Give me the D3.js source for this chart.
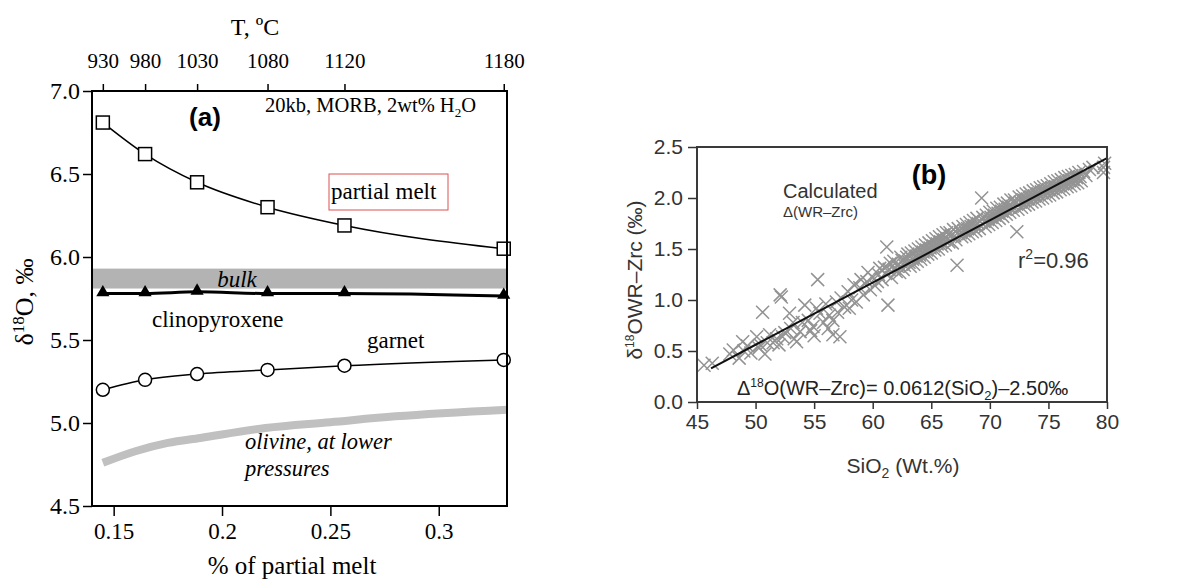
<!DOCTYPE html>
<html>
<head>
<meta charset="utf-8">
<script src="https://cdn.jsdelivr.net/npm/d3@7"></script>
<style>
  body { margin: 0; background: #fff; }
  svg { display: block; }
</style>
</head>
<body>
<svg id="chart"></svg>
<script>
// ---- data, panel (a) ----
const meltFrac = [0.145, 0.1645, 0.1885, 0.221, 0.2565, 0.33];
const tempC = [930, 980, 1030, 1080, 1120, 1180];
const partialMelt = [6.81, 6.62, 6.45, 6.30, 6.19, 6.05];
const clinopyroxene = [5.78, 5.78, 5.79, 5.78, 5.78, 5.765];
const garnet = [5.20, 5.26, 5.295, 5.32, 5.345, 5.38];
const bulkBand = [5.81, 5.93];
const olivine = [[0.145, 4.76], [0.16, 4.83], [0.175, 4.88], [0.19, 4.91], [0.22, 4.97],
                 [0.25, 5.005], [0.28, 5.04], [0.3315, 5.08]];
const meltTicks = [0.15, 0.2, 0.25, 0.3];
const d18OTicks = [4.5, 5.0, 5.5, 6.0, 6.5, 7.0];

// ---- data, panel (b) ----
const sio2Ticks = [45, 50, 55, 60, 65, 70, 75, 80];
const deltaTicks = [0, 0.5, 1.0, 1.5, 2.0, 2.5];
const fitLine = [[46.2, 0.33], [80, 2.39]];
const samples = [
  [45.6, 0.36], [46.3, 0.38], [47.8, 0.47], [48.1, 0.51], [48.6, 0.43], [48.9, 0.59],
  [49.0, 0.50], [49.3, 0.55], [49.6, 0.48], [50.1, 0.64], [50.3, 0.53], [50.4, 0.56],
  [50.6, 0.88], [50.8, 0.47], [51.0, 0.58], [51.2, 0.66], [51.5, 0.58], [51.8, 0.62],
  [52.0, 0.56], [52.1, 1.05], [52.2, 1.03], [52.3, 0.64], [52.5, 0.68], [52.9, 0.87],
  [53.0, 0.72], [53.2, 0.78], [53.3, 0.62], [53.5, 0.59], [53.8, 0.69], [54.0, 0.78],
  [54.2, 0.95], [54.5, 0.80], [54.7, 0.70], [54.9, 0.74], [55.0, 0.65], [55.2, 0.92],
  [55.3, 1.20], [55.5, 0.87], [55.8, 0.78], [56.0, 0.96], [56.2, 0.72], [56.3, 0.85],
  [56.6, 0.66], [56.6, 0.80], [56.9, 0.98], [57.0, 0.88], [57.2, 0.64], [57.3, 1.02],
  [57.6, 0.93], [57.9, 1.08], [58.0, 0.92], [58.2, 1.00], [58.4, 1.15], [58.6, 0.98],
  [58.9, 1.12], [59.0, 1.20], [59.2, 1.05], [59.5, 1.18], [59.6, 1.27], [59.8, 1.10],
  [60.0, 1.22], [60.2, 1.14], [60.4, 1.18], [60.5, 1.25], [60.6, 1.31], [60.8, 1.20],
  [61.0, 1.32], [61.1, 1.26], [61.2, 1.52], [61.3, 0.95], [61.4, 1.30], [61.5, 1.36],
  [61.6, 1.22], [61.8, 1.38], [61.9, 1.31], [62.0, 1.28], [62.1, 1.33], [62.2, 1.35],
  [62.3, 1.27], [62.4, 1.42], [62.5, 1.39], [62.6, 1.30], [62.7, 1.34], [62.8, 1.38],
  [62.9, 1.42], [63.0, 1.45], [63.1, 1.37], [63.2, 1.33], [63.3, 1.46], [63.4, 1.40],
  [63.5, 1.35], [63.6, 1.48], [63.7, 1.43], [63.8, 1.38], [63.9, 1.50], [64.0, 1.44],
  [64.1, 1.40], [64.2, 1.52], [64.3, 1.47], [64.4, 1.42], [64.5, 1.54], [64.6, 1.49],
  [64.7, 1.45], [64.8, 1.56], [64.9, 1.51], [65.0, 1.46], [65.1, 1.58], [65.2, 1.53],
  [65.3, 1.49], [65.4, 1.60], [65.5, 1.55], [65.6, 1.50], [65.7, 1.62], [65.8, 1.57],
  [65.9, 1.53], [66.0, 1.64], [66.1, 1.59], [66.2, 1.54], [66.3, 1.66], [66.4, 1.60],
  [66.5, 1.57], [66.6, 1.66], [66.7, 1.63], [66.8, 1.56], [66.9, 1.69], [67.0, 1.63],
  [67.1, 1.59], [67.2, 1.34], [67.3, 1.70], [67.5, 1.66], [67.6, 1.62], [67.7, 1.72],
  [67.8, 1.68], [67.9, 1.63], [68.0, 1.74], [68.1, 1.70], [68.2, 1.65], [68.3, 1.76],
  [68.4, 1.72], [68.5, 1.67], [68.6, 1.78], [68.7, 1.73], [68.8, 1.68], [68.9, 1.80],
  [69.0, 1.75], [69.1, 1.70], [69.3, 2.00], [69.4, 1.81], [69.5, 1.77], [69.6, 1.72],
  [69.7, 1.83], [69.8, 1.79], [69.9, 1.74], [70.0, 1.86], [70.1, 1.81], [70.2, 1.76],
  [70.3, 1.87], [70.4, 1.83], [70.5, 1.78], [70.6, 1.90], [70.7, 1.85], [70.8, 1.80],
  [70.9, 1.91], [71.0, 1.87], [71.1, 1.82], [71.2, 1.94], [71.3, 1.89], [71.4, 1.84],
  [71.5, 1.95], [71.6, 1.91], [71.7, 1.86], [71.8, 1.98], [71.9, 1.92], [72.0, 1.88],
  [72.1, 1.98], [72.2, 1.95], [72.3, 1.67], [72.4, 1.89], [72.5, 2.01], [72.6, 1.96],
  [72.7, 1.91], [72.8, 2.02], [72.9, 1.98], [73.0, 1.93], [73.1, 2.04], [73.2, 1.99],
  [73.3, 1.94], [73.4, 2.05], [73.5, 2.01], [73.6, 1.96], [73.7, 2.07], [73.8, 2.02],
  [73.9, 1.97], [74.0, 2.08], [74.1, 2.04], [74.2, 1.99], [74.3, 2.10], [74.4, 2.06],
  [74.5, 2.00], [74.6, 2.11], [74.7, 2.07], [74.8, 2.02], [74.9, 2.12], [75.0, 2.08],
  [75.1, 2.03], [75.2, 2.14], [75.3, 2.10], [75.4, 2.05], [75.5, 2.16], [75.6, 2.11],
  [75.7, 2.06], [75.8, 2.17], [75.9, 2.12], [76.0, 2.08], [76.1, 2.18], [76.2, 2.14],
  [76.3, 2.09], [76.4, 2.20], [76.5, 2.15], [76.6, 2.11], [76.7, 2.21], [76.8, 2.17],
  [76.9, 2.12], [77.0, 2.22], [77.1, 2.18], [77.2, 2.14], [77.3, 2.23], [77.4, 2.20],
  [77.5, 2.15], [77.6, 2.25], [77.7, 2.21], [77.8, 2.17], [78.0, 2.26], [78.2, 2.22],
  [78.5, 2.28], [78.8, 2.30], [79.7, 2.25], [79.7, 2.30], [79.8, 2.34]
];

const W = 1187, H = 579;
const serif = "'Liberation Serif', 'Times New Roman', serif";
const sans = "'Liberation Sans', Arial, sans-serif";

const svg = d3.select("#chart").attr("width", W).attr("height", H);

// =================== panel (a) ===================
const a = { left: 92, right: 507, top: 91, bottom: 506 };
const xA = d3.scaleLinear().domain([0.14, 0.3315]).range([a.left, a.right]);
const yA = d3.scaleLinear().domain([4.5, 7.0]).range([a.bottom, a.top]);

// bulk band
svg.append("rect")
  .attr("x", a.left)
  .attr("width", a.right - a.left)
  .attr("y", yA(bulkBand[1]))
  .attr("height", yA(bulkBand[0]) - yA(bulkBand[1]))
  .attr("fill", "#b3b3b3");

// olivine thick gray curve
svg.append("path")
  .datum(olivine)
  .attr("fill", "none")
  .attr("stroke", "#c0c0c0")
  .attr("stroke-width", 8)
  .attr("d", d3.line().x(d => xA(d[0])).y(d => yA(d[1])).curve(d3.curveMonotoneX));

const seriesLine = vals => d3.line()
  .x((d, i) => xA(meltFrac[i]))
  .y(d => yA(d))
  .curve(d3.curveMonotoneX)(vals);

svg.append("path").attr("d", seriesLine(partialMelt))
  .attr("fill", "none").attr("stroke", "#000").attr("stroke-width", 1.5);
svg.append("path").attr("d", seriesLine(clinopyroxene))
  .attr("fill", "none").attr("stroke", "#000").attr("stroke-width", 3);
svg.append("path").attr("d", seriesLine(garnet))
  .attr("fill", "none").attr("stroke", "#000").attr("stroke-width", 1.5);

// markers
svg.selectAll(".sq").data(partialMelt).enter().append("rect")
  .attr("x", (d, i) => xA(meltFrac[i]) - 6.5)
  .attr("y", d => yA(d) - 6.5)
  .attr("width", 13).attr("height", 13)
  .attr("fill", "#fff").attr("stroke", "#000").attr("stroke-width", 1.5);

svg.selectAll(".tri").data(clinopyroxene).enter().append("path")
  .attr("transform", (d, i) => `translate(${xA(meltFrac[i])},${yA(d) - 1})`)
  .attr("d", d3.symbol().type(d3.symbolTriangle).size(75))
  .attr("fill", "#000");

svg.selectAll(".circ").data(garnet).enter().append("circle")
  .attr("cx", (d, i) => xA(meltFrac[i]))
  .attr("cy", d => yA(d))
  .attr("r", 6.5)
  .attr("fill", "#fff").attr("stroke", "#000").attr("stroke-width", 1.5);

// frame
svg.append("rect")
  .attr("x", a.left).attr("y", a.top)
  .attr("width", a.right - a.left).attr("height", a.bottom - a.top)
  .attr("fill", "none").attr("stroke", "#000").attr("stroke-width", 2);

// axes
const styleAxis = (g, font, size, color) => {
  g.select(".domain").remove();
  g.selectAll(".tick line").attr("stroke", color).attr("stroke-width", 1.5);
  g.selectAll(".tick text").attr("font-family", font).attr("font-size", size).attr("fill", color);
};

svg.append("g")
  .attr("transform", `translate(0,${a.top})`)
  .call(d3.axisTop(xA).tickValues(meltFrac).tickFormat((d, i) => tempC[i]).tickSize(7).tickPadding(16))
  .call(g => styleAxis(g, serif, 21, "#000"));

svg.append("g")
  .attr("transform", `translate(${a.left},0)`)
  .call(d3.axisLeft(yA).tickValues(d18OTicks).tickFormat(d3.format(".1f")).tickSize(9).tickPadding(3))
  .call(g => styleAxis(g, serif, 24, "#000"));

svg.append("g")
  .attr("transform", `translate(0,${a.bottom})`)
  .call(d3.axisBottom(xA).tickValues(meltTicks).tickFormat(d => d).tickSize(10).tickPadding(7))
  .call(g => styleAxis(g, serif, 23, "#000"));

// texts (a)
svg.append("text").attr("x", 255).attr("y", 35).attr("text-anchor", "middle")
  .attr("font-family", serif).attr("font-size", 24).text("T, ºC");

svg.append("text").attr("x", 292).attr("y", 574).attr("text-anchor", "middle")
  .attr("font-family", serif).attr("font-size", 25).text("% of partial melt");

const yLabA = svg.append("text")
  .attr("transform", "translate(33,302) rotate(-90)")
  .attr("text-anchor", "middle")
  .attr("font-family", serif).attr("font-size", 26);
yLabA.append("tspan").text("δ");
yLabA.append("tspan").attr("font-size", 17).attr("dy", -9).text("18");
yLabA.append("tspan").attr("dy", 9).text("O, ‰");

svg.append("text").attr("x", 205).attr("y", 126).attr("text-anchor", "middle")
  .attr("font-family", sans).attr("font-weight", "bold").attr("font-size", 26).text("(a)");

const cond = svg.append("text").attr("x", 265).attr("y", 112)
  .attr("font-family", serif).attr("font-size", 20.5);
cond.append("tspan").text("20kb, MORB, 2wt% H");
cond.append("tspan").attr("font-size", 13).attr("dy", 5).text("2");
cond.append("tspan").attr("dy", -5).text("O");

svg.append("rect").attr("x", 329).attr("y", 174).attr("width", 119).attr("height", 36)
  .attr("fill", "none").attr("stroke", "#d9534f").attr("stroke-width", 1);
svg.append("text").attr("x", 331).attr("y", 199)
  .attr("font-family", serif).attr("font-size", 23).text("partial melt");

svg.append("text").attr("x", 237).attr("y", 287).attr("text-anchor", "middle")
  .attr("font-family", serif).attr("font-style", "italic").attr("font-size", 23).text("bulk");
svg.append("text").attr("x", 152).attr("y", 327)
  .attr("font-family", serif).attr("font-size", 23).text("clinopyroxene");
svg.append("text").attr("x", 367).attr("y", 348)
  .attr("font-family", serif).attr("font-size", 23).text("garnet");
svg.append("text").attr("x", 245).attr("y", 449)
  .attr("font-family", serif).attr("font-style", "italic").attr("font-size", 22.5).text("olivine, at lower");
svg.append("text").attr("x", 245).attr("y", 476)
  .attr("font-family", serif).attr("font-style", "italic").attr("font-size", 22.5).text("pressures");

// =================== panel (b) ===================
const b = { left: 697, right: 1107, top: 147, bottom: 402 };
const xB = d3.scaleLinear().domain([45, 80]).range([b.left, b.right]);
const yB = d3.scaleLinear().domain([0, 2.5]).range([b.bottom, b.top]);

// X markers
const xs = 6.5;
svg.append("g").selectAll("path").data(samples).enter().append("path")
  .attr("d", d => {
    const cx = xB(d[0]), cy = yB(d[1]);
    return `M${cx - xs},${cy - xs}L${cx + xs},${cy + xs}M${cx - xs},${cy + xs}L${cx + xs},${cy - xs}`;
  })
  .attr("stroke", "#939393").attr("stroke-width", 1.5).attr("fill", "none");

// regression line
svg.append("path").datum(fitLine)
  .attr("d", d3.line().x(d => xB(d[0])).y(d => yB(d[1])))
  .attr("stroke", "#111").attr("stroke-width", 2).attr("fill", "none");

// frame
svg.append("rect")
  .attr("x", b.left).attr("y", b.top)
  .attr("width", b.right - b.left).attr("height", b.bottom - b.top)
  .attr("fill", "none").attr("stroke", "#3a3a3a").attr("stroke-width", 2);

svg.append("g")
  .attr("transform", `translate(0,${b.bottom})`)
  .call(d3.axisBottom(xB).tickValues(sio2Ticks).tickSize(7).tickPadding(5))
  .call(g => styleAxis(g, sans, 21, "#333"));

svg.append("g")
  .attr("transform", `translate(${b.left},0)`)
  .call(d3.axisLeft(yB).tickValues(deltaTicks).tickFormat(d3.format(".1f")).tickSize(9).tickPadding(5))
  .call(g => styleAxis(g, sans, 21, "#333"));

// texts (b)
const xLabB = svg.append("text").attr("x", 903).attr("y", 473).attr("text-anchor", "middle")
  .attr("font-family", sans).attr("font-size", 21).attr("fill", "#333");
xLabB.append("tspan").text("SiO");
xLabB.append("tspan").attr("font-size", 14).attr("dy", 5).text("2");
xLabB.append("tspan").attr("dy", -5).text(" (Wt.%)");

const yLabB = svg.append("text")
  .attr("transform", "translate(642,280) rotate(-90)")
  .attr("text-anchor", "middle")
  .attr("font-family", sans).attr("font-size", 21).attr("fill", "#333");
yLabB.append("tspan").text("δ");
yLabB.append("tspan").attr("font-size", 12).attr("dy", -8).text("18");
yLabB.append("tspan").attr("dy", 8).text("OWR–Zrc (‰)");

svg.append("text").attr("x", 929).attr("y", 184).attr("text-anchor", "middle")
  .attr("font-family", sans).attr("font-weight", "bold").attr("font-size", 27).text("(b)");

svg.append("text").attr("x", 783).attr("y", 198)
  .attr("font-family", sans).attr("font-size", 20).attr("fill", "#333").text("Calculated");
svg.append("text").attr("x", 783).attr("y", 217)
  .attr("font-family", sans).attr("font-size", 15).attr("fill", "#333").text("Δ(WR–Zrc)");

const r2 = svg.append("text").attr("x", 1018).attr("y", 268)
  .attr("font-family", sans).attr("font-size", 22).attr("fill", "#333");
r2.append("tspan").text("r");
r2.append("tspan").attr("font-size", 14).attr("dy", -9).text("2");
r2.append("tspan").attr("dy", 9).text("=0.96");

const eq = svg.append("text").attr("x", 737).attr("y", 395)
  .attr("font-family", sans).attr("font-size", 20).attr("fill", "#222");
eq.append("tspan").text("Δ");
eq.append("tspan").attr("font-size", 12).attr("dy", -8).text("18");
eq.append("tspan").attr("dy", 8).text("O(WR–Zrc)= 0.0612(SiO");
eq.append("tspan").attr("font-size", 13).attr("dy", 5).text("2");
eq.append("tspan").attr("dy", -5).text(")–2.50‰");
</script>
</body>
</html>
